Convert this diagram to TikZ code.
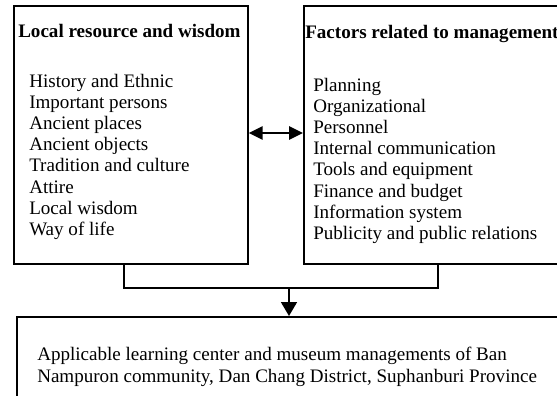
\documentclass[tikz,border=0pt]{standalone}
\usepackage{fontspec}
\setmainfont{Liberation Serif}
\usetikzlibrary{arrows.meta}

\tikzset{
  box/.style={draw=black, line width=1.3pt, anchor=north west, inner sep=0pt},
  head/.style={anchor=base west, inner sep=0pt, font=\fontsize{14.3}{16}\selectfont\bfseries},
  item/.style={anchor=base west, inner sep=0pt, font=\fontsize{14.3}{16}\selectfont},
  link/.style={line width=1.3pt},
}

\begin{document}
\begin{tikzpicture}[x=0.75pt,y=-0.75pt]
    \useasboundingbox (0,0) rectangle (557,396);
    % the three boxes
    \node[box, minimum width=175.5pt, minimum height=193.5pt] (local) at (13,5) {};
    \node[box, minimum width=202.5pt, minimum height=193.5pt] (factors) at (303,5) {};
    \node[box, minimum width=438pt, minimum height=75pt] (result) at (16,316) {};

    \node[head] (localhead) at (18,37) {Local resource and wisdom};
    \foreach \t [count=\i] in {History and Ethnic, Important persons,
        Ancient places, Ancient objects, Tradition and culture, Attire,
        Local wisdom, Way of life}
      \node[item] (local\i) at (29,{87+21.2*(\i-1)}) {\t};

    \node[head] (factorshead) at (305,38) {Factors related to management};
    \foreach \t [count=\i] in {Planning, Organizational, Personnel,
        Internal communication, Tools and equipment, Finance and budget,
        Information system, Publicity and public relations}
      \node[item] (factors\i) at (313,{91+21.2*(\i-1)}) {\t};

    \node[item] (result1) at (37,360) {Applicable learning center and museum managements of Ban};
    \node[item] (result2) at (37,382) {Nampuron community, Dan Chang District, Suphanburi Province};

    % connectors
    \coordinate (mid) at (0,133);
    \coordinate (lx) at (124,0);
    \coordinate (rx) at (438,0);
    \coordinate (join) at (289,288);
    \draw[link,{Triangle[length=10.5pt,width=10pt]}-{Triangle[length=10.5pt,width=10pt]}]
      (local.east |- mid) -- (factors.west |- mid);
    \draw[link] (local.south -| lx) |- (join) -| (factors.south -| rx);
    \draw[link,-{Triangle[length=10.5pt,width=12pt]}] (join) -- (join |- result.north);
\end{tikzpicture}
\end{document}
